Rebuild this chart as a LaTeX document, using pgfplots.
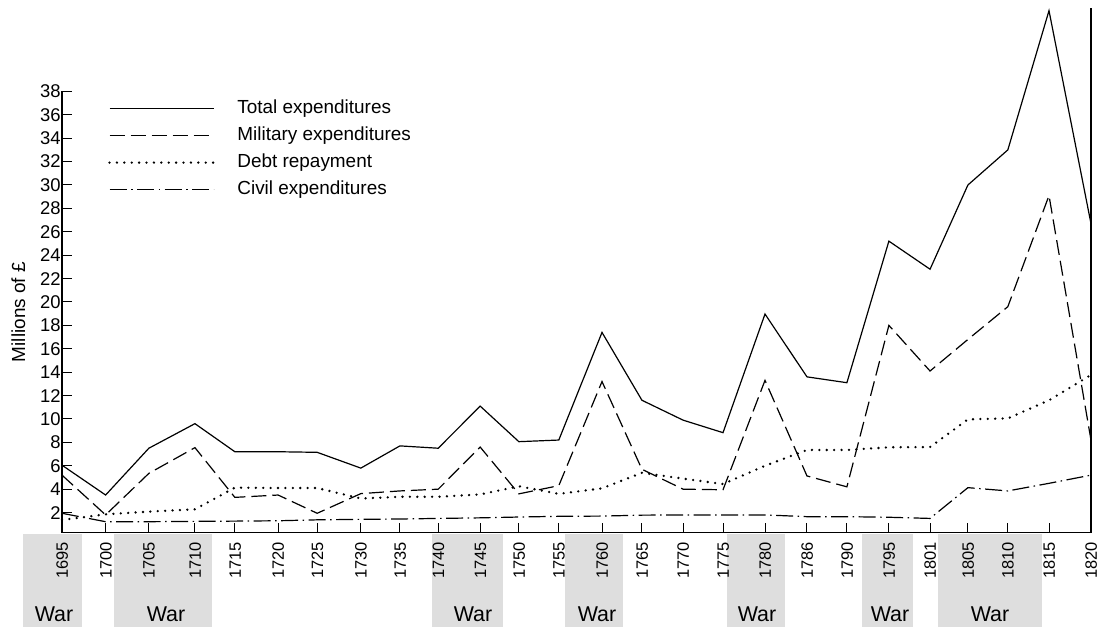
\documentclass[border=0pt]{standalone}
\usepackage{pgfplots}
\pgfplotsset{compat=1.18}
\usepackage{pgfplotstable}
\usepackage{fontspec}
\setmainfont{Liberation Sans}

\pgfplotstableread{
x year total mil debt civil
0.00 1695 6.05 5.2 1.37 1.94
1.06 1700 3.5 1.8 1.85 1.22
2.11 1705 7.5 5.35 2.08 1.22
3.23 1710 9.6 7.55 2.28 1.25
4.20 1715 7.2 3.3 4.13 1.27
5.25 1720 7.2 3.5 4.1 1.3
6.20 1725 7.15 1.94 4.1 1.38
7.26 1730 5.8 3.62 3.2 1.42
8.21 1735 7.7 3.85 3.35 1.45
9.14 1740 7.5 4.0 3.35 1.5
10.16 1745 11.1 7.6 3.55 1.55
11.10 1750 8.06 3.6 4.25 1.62
12.07 1755 8.2 4.3 3.6 1.68
13.12 1760 17.4 13.2 4.07 1.7
14.09 1765 11.6 5.7 5.4 1.78
15.09 1770 9.9 4.0 4.9 1.8
16.06 1775 8.83 3.95 4.44 1.8
17.08 1780 18.97 13.3 6.0 1.8
18.10 1786 13.6 5.13 7.35 1.65
19.07 1790 13.1 4.2 7.35 1.65
20.09 1795 25.2 18.0 7.58 1.6
21.09 1801 22.8 14.1 7.6 1.5
22.01 1805 30.0 16.8 9.97 4.13
22.98 1810 33.0 19.6 10.05 3.85
23.98 1815 44.9 29.1 11.6 4.5
25.00 1820 26.7 8.2 13.76 5.2
}\data

\begin{document}
\begin{tikzpicture}
\path[use as bounding box] (0,0) rectangle (1103bp,627bp);
% war shading below the axis
\foreach \a/\b in {23/82,114/212,432/503,565/623,727/785,862/913,938/1042}
  \fill[black!13] (\a bp,0bp) rectangle (\b bp,93bp);
\foreach \c in {54,166,473,597,757,890,990}
  \node[font=\fontsize{21.5}{21.5}\selectfont, inner sep=0pt, anchor=base] at (\c bp,5.5bp) {War};
\begin{axis}[
  at={(62bp,94.3bp)}, anchor=south west,
  scale only axis, width=1029bp, height=441.3bp,
  xmin=0, xmax=25, ymin=0.28, ymax=38,
  axis x line=bottom, axis y line=left,
  axis line style={-, line width=1.1bp},
  every outer x axis line/.append style={-},
  every outer y axis line/.append style={-},
  clip=false,
  xtick=data, xticklabels from table={\data}{year},
  ytick={2,4,...,38},
  tick align=inside, major tick length=10bp,
  every tick/.style={black, line width=1bp},
  xticklabel style={yshift=-9bp, rotate=90, anchor=east, inner sep=0pt, text height=11.8bp, text depth=0pt, font=\fontsize{16.5}{16.5}\selectfont},
  yticklabel style={inner sep=1.2bp, font=\fontsize{18.5}{18.5}\selectfont},
  /pgf/number format/assume math mode=true,
  ylabel={Millions of £},
  ylabel style={at={(axis description cs:-0.0425,0.5)}, anchor=center, font=\fontsize{19}{19}\selectfont},
  legend style={draw=none, fill=none, inner sep=0pt, at={(axis cs:1.118,37.7)}, anchor=north west,
    font=\fontsize{19}{22}\selectfont,
    nodes={inner sep=4.5bp, text height=14bp, text depth=4bp},
    /tikz/every odd column/.append style={column sep=18.1bp}, row sep=0pt},
  legend cell align=left,
  legend image code/.code={\draw[#1] (0bp,0bp) -- (104bp,0bp);},
]
\addplot[black, line width=1.2bp] table[x=x,y=total]{\data};
\addlegendentry{Total expenditures}
\addplot[black, line width=1.2bp, dash pattern=on 15bp off 6bp] table[x=x,y=mil]{\data};
\addlegendentry{Military expenditures}
\addplot[black, line width=2.6bp, line cap=round, dash pattern=on 0bp off 7.4bp] table[x=x,y=debt]{\data};
\addlegendentry{Debt repayment}
\addplot[black, line width=1.2bp, dash pattern=on 17bp off 4.5bp on 1.5bp off 4.5bp] table[x=x,y=civil]{\data};
\addlegendentry{Civil expenditures}
\draw[line width=1.1bp] (axis cs:25,0.28) -- (axis cs:25,45.1);
\end{axis}
\end{tikzpicture}
\end{document}
